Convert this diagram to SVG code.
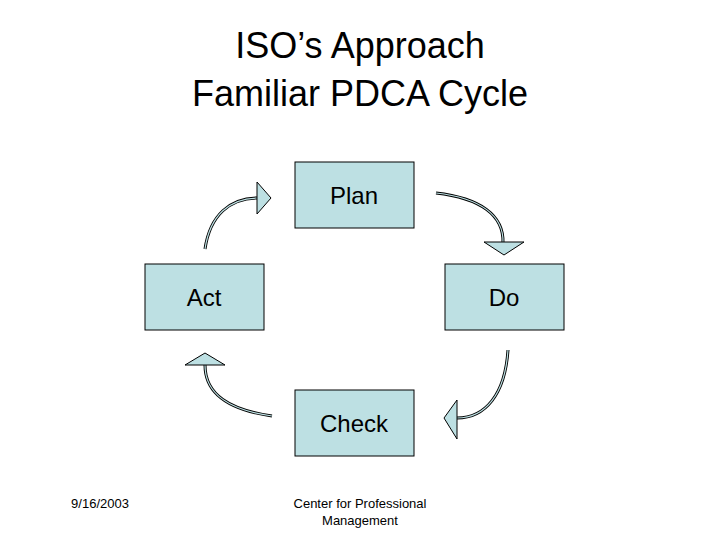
<svg xmlns="http://www.w3.org/2000/svg" width="720" height="540" viewBox="0 0 720 540">
<style>
.box{fill:#bde0e3;stroke:#000;stroke-width:1}
.t{font-family:"Liberation Sans",Arial,sans-serif;fill:#000}
.c1{fill:none;stroke:#000;stroke-width:3}
.c2{fill:none;stroke:#bde0e3;stroke-width:1.2}
.h{fill:#bde0e3;stroke:#000;stroke-width:1}
</style>
<rect width="720" height="540" fill="#fff"/>
<text class="t" x="360" y="58" font-size="36" text-anchor="middle">ISO’s Approach</text>
<text class="t" x="360" y="106" font-size="36" text-anchor="middle">Familiar PDCA Cycle</text>
<g id="plan"><rect class="box" x="295" y="162" width="119" height="66"/><text class="t" x="354" y="204" font-size="24" text-anchor="middle">Plan</text></g>
<g id="act"><rect class="box" x="145" y="264" width="119" height="66"/><text class="t" x="204" y="306" font-size="24" text-anchor="middle">Act</text></g>
<g id="do"><rect class="box" x="445" y="264" width="119" height="66"/><text class="t" x="504" y="306" font-size="24" text-anchor="middle">Do</text></g>
<g id="check"><rect class="box" x="295" y="390" width="119" height="66"/><text class="t" x="354" y="432" font-size="24" text-anchor="middle">Check</text></g>
<g id="connectors">
<path class="c1" d="M205,249 C210,215 230,198 258,198"/><path class="c2" d="M205,249 C210,215 230,198 258,198"/>
<polygon class="h" points="257,182 257,214 271,198"/>
<path class="c1" d="M436,193 C480,198 504,215 503,243"/><path class="c2" d="M436,193 C480,198 504,215 503,243"/>
<polygon class="h" points="484,242 524,242 504,255"/>
<path class="c1" d="M508,350 C505,395 485,418 457,418"/><path class="c2" d="M508,350 C505,395 485,418 457,418"/>
<polygon class="h" points="457,400 457,439 444,418"/>
<path class="c1" d="M272,416 C230,410 205,395 205,365"/><path class="c2" d="M272,416 C230,410 205,395 205,365"/>
<polygon class="h" points="185,365 225,365 205,353"/>
</g>
<text class="t" x="100" y="508" font-size="13" text-anchor="middle">9/16/2003</text>
<text class="t" x="360" y="508" font-size="13" text-anchor="middle">Center for Professional</text>
<text class="t" x="360" y="525" font-size="13" text-anchor="middle">Management</text>
</svg>
